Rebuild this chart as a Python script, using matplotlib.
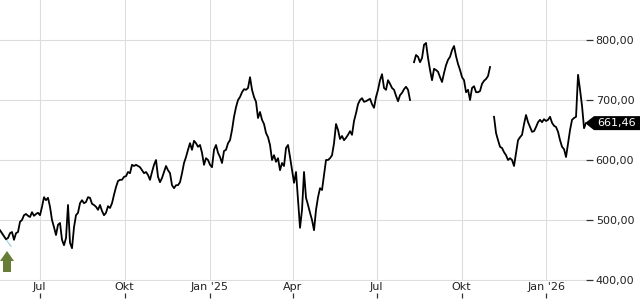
import matplotlib

matplotlib.use("Agg")
import matplotlib.pyplot as plt
import matplotlib.dates as mdates
import matplotlib.transforms as mtransforms
from matplotlib.patches import Polygon
from matplotlib.ticker import FixedLocator, FuncFormatter
import numpy as np
import pandas as pd

nan = np.nan

# closing prices, one reading every 52 hours from 19 May 2024 (nan = gap in the feed)
START = "2024-05-19"
STEP = "52h"
prices = [
    483, 478, 473, 468, 470, 478, 480, 467, 478, 480,
    497, 500, 508, 510, 507, 505, 513, 507, 510, 512,
    508, 522, 538, 533, 537, 522, 500, 488, 475, 492,
    495, 467, 458, 470, 525, 462, 453, 488, 508, 512,
    528, 533, 528, 530, 538, 537, 527, 525, 522, 517,
    525, 515, 508, 512, 523, 520,
    528, 542, 555, 565, 567, 567, 572, 573, 580, 578,
    592, 590, 592, 590, 588, 583, 578, 580, 575, 567,
    580, 592, 600, 572, 563, 570, 580, 590, 583, 578,
    558, 553, 558, 558, 563, 578, 595, 605, 617, 628,
    617, 632, 628, 622, 625, 612, 592, 603, 600, 592,
    588, 617, 625, 612, 605, 595, 615, 617, 628, 633,
    650, 672, 688, 700, 705, 713, 718, 717, 720, 738,
    717, 705, 697, 670, 680, 667, 660, 645, 638, 625,
    600, 608, 597, 603, 583, 595, 590, 620, 625, 605,
    583, 562, 580, 533, 487, 517, 580, 537, 525, 512,
    500, 483, 517, 538, 553, 550, 575, 600, 600, 603,
    608, 628, 660, 650, 635, 640, 633, 637, 642, 648,
    642, 665, 678, 693, 700, 703, 697, 698, 700, 702,
    693, 687, 705, 717, 733, 743, 720, 717, 733, 727,
    720, 717, 707, 698, 708, 712, 718, 722, 717, 700,
    nan, 763, 775, 772, 763, 770, 792, 795, 770, 750,
    733, 752, 750, 747, 738, 730, 745, 758, 767, 772,
    783, 790, 773, 760, 750, 738, 733, 713, 717, 700,
    720, 723, 713, 713, 715, 727, 732, 735, 740, 755,
    nan, 672, 645, 633, 622, 620, 613, 608, 600, 603,
    600, 590, 612, 633, 638, 642, 660, 675, 663, 655,
    647, 648, 655, 663, 667, 663, 668, 665, 667, 672,
    662, 657, 655, 647, 633, 622, 618, 605, 628, 650,
    667, 670, 672, 742, 717, 690, 653, 661.46,
]
last_price = 661.46

trend_dates = ["2024-05-19", "2024-05-31"]
trend_values = [481, 456]

tick_dates = ["2024-07-01", "2024-10-01", "2025-01-01", "2025-04-01",
              "2025-07-01", "2025-10-01", "2026-01-01"]
tick_labels = ["Jul", "Okt", "Jan '25", "Apr", "Jul", "Okt", "Jan '26"]
y_ticks = [400, 500, 600, 700, 800]

W, H = 640, 300
AX_RIGHT = 586
AX_BOTTOM = 281

dates = pd.date_range(START, periods=len(prices), freq=STEP)

fig = plt.figure(figsize=(W / 100, H / 100), dpi=100)
ax = fig.add_axes([0, (H - AX_BOTTOM) / H, AX_RIGHT / W, AX_BOTTOM / H])

ax.plot(dates, prices, color="black", linewidth=1.3, zorder=3)
ax.plot(pd.to_datetime(trend_dates), trend_values, color="#9fd3e6", linewidth=0.9, zorder=2)

ax.set_xlim(pd.Timestamp("2024-05-19"), pd.Timestamp("2026-02-12 19:00"))
ax.set_ylim(800 - 241 / 0.6, 800 + 40 / 0.6)

for side in ax.spines.values():
    side.set_visible(False)

tick_nums = mdates.date2num(pd.to_datetime(tick_dates))
ax.xaxis.set_major_locator(FixedLocator(tick_nums))
ax.set_xticklabels(tick_labels)
ax.tick_params(axis="x", length=0, pad=1, labelsize=8, labelcolor="#222222")

ax.yaxis.tick_right()
ax.set_yticks(y_ticks)
ax.yaxis.set_major_formatter(FuncFormatter(lambda v, _: f"{v:.2f}".replace(".", ",")))
ax.tick_params(axis="y", direction="out", length=5, width=0.9, pad=2,
               color="#333333", labelsize=8, labelcolor="#222222")

ax.grid(True, color="#dddddd", linewidth=0.8, zorder=0)

# small tick marks under the month labels
blend_x = mtransforms.blended_transform_factory(ax.transData, ax.transAxes)
ax.vlines(tick_nums, -17 / AX_BOTTOM, -12 / AX_BOTTOM, transform=blend_x,
          color="#333333", linewidth=0.9, clip_on=False)

# last price tag
blend_y = mtransforms.blended_transform_factory(ax.transAxes, ax.transData)
half = 7 / 0.6
px = 1 / AX_RIGHT
tag = Polygon(
    [(1 - px, last_price), (1 + 8 * px, last_price + half), (1 + 54 * px, last_price + half),
     (1 + 54 * px, last_price - half), (1 + 8 * px, last_price - half)],
    closed=True, facecolor="black", edgecolor="none", transform=blend_y, clip_on=False, zorder=5,
)
ax.add_patch(tag)
ax.text(1 + 31 * px, last_price, f"{last_price:.2f}".replace(".", ","), transform=blend_y,
        ha="center", va="center", color="white", fontsize=8, zorder=6, clip_on=False)

# green buy arrow in the lower left corner
arrow_px = [(7, 251), (14, 261), (11, 261), (11, 272), (3, 272), (3, 261), (0, 261)]
fig.patches.append(Polygon([(x / W, 1 - y / H) for x, y in arrow_px], closed=True,
                           facecolor="#687d37", edgecolor="none", transform=fig.transFigure))

fig.savefig("out.png", dpi=100)
plt.close(fig)
